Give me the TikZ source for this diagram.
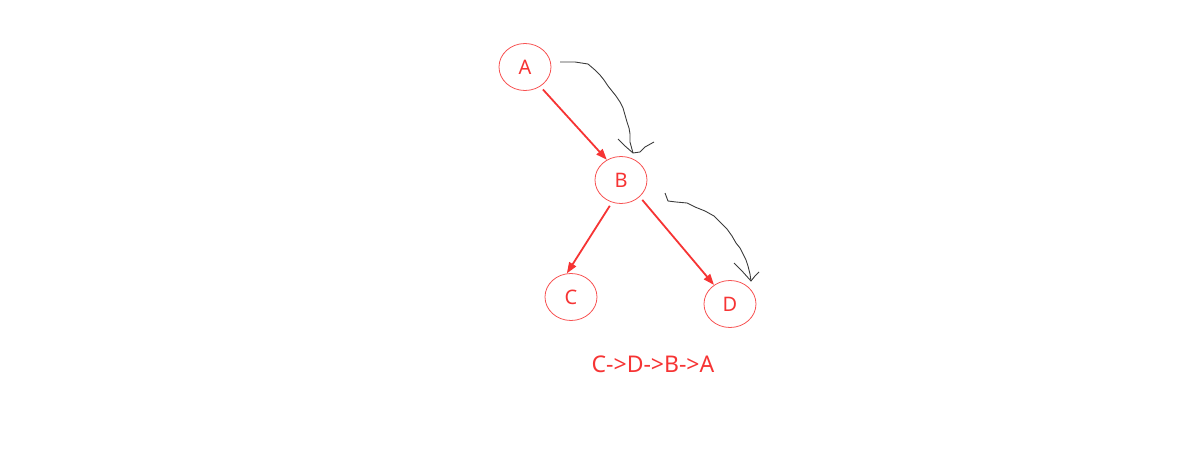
\documentclass[tikz,border=0pt]{standalone}
\usepackage{fontspec}
\setmainfont{Noto Sans}
\usetikzlibrary{arrows.meta,shapes.geometric}
\definecolor{myred}{RGB}{246,52,52}
\definecolor{hand}{RGB}{60,60,60}
\tikzset{
  vert/.style={draw=myred!85, line width=0.8pt, ellipse, minimum width=52pt, minimum height=47pt, inner sep=0pt, text=myred, font=\fontsize{20}{20}\selectfont},
  edge/.style={draw=myred, line width=1.8pt, shorten <=4pt, -{Triangle[length=11pt,width=8pt]}},
  handline/.style={draw=hand, line width=0.9pt}
}
\begin{document}
\begin{tikzpicture}[x=1pt,y=-1pt]
\useasboundingbox (0,0) rectangle (1202,449);
\node[vert] (A) at (525,67) {A};
\node[vert] (B) at (621,180) {B};
\node[vert] (C) at (571,297) {C};
\node[vert] (D) at (730,304) {D};
\draw[edge] (A.-52) -- (B.125);
\draw[edge] (B.-112) -- (C.100);
\draw[edge] (B.-42) -- (D.130);
\node[text=myred, font=\fontsize{23}{23}\selectfont] (order) at (653,364) {C->D->B->A};
% hand-drawn hooks
\coordinate (h1s) at (560,62);
\coordinate (h1t) at (633,153);
\coordinate (h1l) at (618,139);
\coordinate (h1r) at (654,142);
\draw[handline] (h1s) -- (575,62) -- (588,64) -- (595,70) -- (600,75) -- (604,80) -- (608,86) -- (612,91) -- (616,96) -- (620,102) -- (623,108) -- (625,115) -- (627,122) -- (629,128) -- (630,134) -- (630,142) -- (h1t);
\draw[handline] (h1l) -- (625,146) -- (h1t) -- (640,152) -- (645,147) -- (h1r);
\coordinate (h2s) at (665,193);
\coordinate (h2t) at (751,281);
\coordinate (h2l) at (734,263);
\coordinate (h2r) at (759,272);
\draw[handline] (h2s) -- (668,201) -- (676,202) -- (687,203) -- (695,207) -- (705,211) -- (714,216) -- (721,223) -- (727,229) -- (732,236) -- (736,243) -- (740,248) -- (743,254) -- (746,260) -- (748,266) -- (750,274) -- (h2t);
\draw[handline] (h2l) -- (742,271) -- (h2t) -- (755,276) -- (h2r);
\end{tikzpicture}
\end{document}
